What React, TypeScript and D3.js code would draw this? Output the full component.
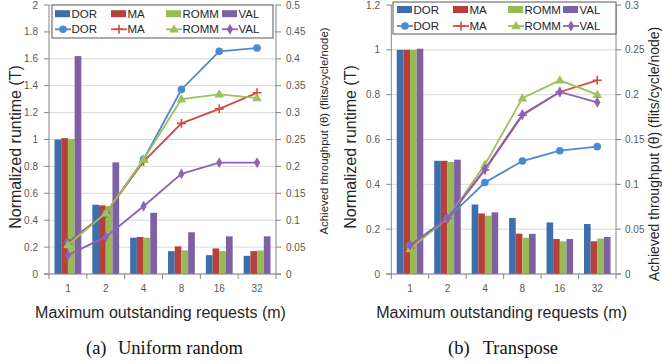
import React from 'react';
import * as d3 from 'd3';

const categories = ['1', '2', '4', '8', '16', '32'];
const seriesNames = ['DOR', 'MA', 'ROMM', 'VAL'];

// (a) Uniform random – normalized runtime (bars)
const urRuntimeDOR = [1.0, 0.515, 0.27, 0.17, 0.14, 0.135];
const urRuntimeMA = [1.01, 0.51, 0.275, 0.205, 0.19, 0.17];
const urRuntimeROMM = [1.005, 0.505, 0.27, 0.175, 0.17, 0.175];
const urRuntimeVAL = [1.62, 0.83, 0.455, 0.31, 0.28, 0.28];
// (a) Uniform random – throughput (lines)
const urThrDOR = [0.059, 0.113, 0.213, 0.343, 0.414, 0.42];
const urThrMA = [0.057, 0.113, 0.209, 0.28, 0.307, 0.337];
const urThrROMM = [0.054, 0.113, 0.213, 0.325, 0.334, 0.327];
const urThrVAL = [0.035, 0.069, 0.126, 0.186, 0.207, 0.207];

// (b) Transpose – normalized runtime (bars)
const trRuntimeDOR = [1.0, 0.505, 0.31, 0.25, 0.23, 0.223];
const trRuntimeMA = [1.0, 0.505, 0.27, 0.18, 0.156, 0.146];
const trRuntimeROMM = [1.0, 0.5, 0.26, 0.162, 0.146, 0.158];
const trRuntimeVAL = [1.005, 0.51, 0.275, 0.179, 0.156, 0.165];
// (b) Transpose – throughput (lines)
const trThrDOR = [0.032, 0.062, 0.102, 0.126, 0.1375, 0.142];
const trThrMA = [0.029, 0.062, 0.116, 0.177, 0.203, 0.216];
const trThrROMM = [0.028, 0.062, 0.122, 0.196, 0.216, 0.2];
const trThrVAL = [0.032, 0.062, 0.117, 0.178, 0.203, 0.1915];

const leftTicksA = [0, 0.2, 0.4, 0.6, 0.8, 1, 1.2, 1.4, 1.6, 1.8, 2];
const rightTicksA = [0, 0.05, 0.1, 0.15, 0.2, 0.25, 0.3, 0.35, 0.4, 0.45, 0.5];
const leftTicksB = [0, 0.2, 0.4, 0.6, 0.8, 1, 1.2];
const rightTicksB = [0, 0.05, 0.1, 0.15, 0.2, 0.25, 0.3];

const barColors = ['#3d6fac', '#b5403c', '#98ba55', '#7d61a2'];
const lineColors = ['#4a8ad2', '#d44a45', '#9cc25b', '#8b62b6'];

const SANS = '"Liberation Sans", Arial, sans-serif';
const SERIF = '"Liberation Serif", "Times New Roman", serif';
const AXIS = '#868686';
const GRID = '#d9d9d9';
const LABEL = '#595959';
const TITLE = '#262626';

function Marker({ kind, x, y, color }: { kind: number; x: number; y: number; color: string }) {
  if (kind === 0) return <circle cx={x} cy={y} r={3.8} fill={color} />;
  if (kind === 1)
    return (
      <path d={`M${x - 4.5},${y}H${x + 4.5}M${x},${y - 4.5}V${y + 4.5}`} stroke={color} strokeWidth={1.6} />
    );
  if (kind === 2) {
    const sym = d3.symbol().type(d3.symbolTriangle).size(40)();
    return <path d={sym || ''} transform={`translate(${x},${y + 0.5})`} fill={color} />;
  }
  const sym = d3.symbol().type(d3.symbolDiamond).size(34)();
  return <path d={sym || ''} transform={`translate(${x},${y})`} fill={color} />;
}

type ChartProps = {
  left: number;
  right: number;
  top: number;
  bottom: number;
  yMax: number;
  y2Max: number;
  leftTicks: number[];
  rightTicks: number[];
  bars: number[][];
  lines: number[][];
  leftLabelX: number;
  rightLabelX: number;
  leftTitleX: number;
  leftTitleY: number;
  rightTitleX: number;
  rightTitleY: number;
  rightTitleSize: number;
  legend: { x0: number; y0: number; x1: number; y1: number; cols: number[]; rows: number[] };
  caption: string;
  captionTag: string;
  captionTagX: number;
  captionTextX: number;
};

function Chart(p: ChartProps) {
  const x0 = d3.scaleBand<string>().domain(categories).range([p.left, p.right]).padding(0);
  const x1 = d3
    .scaleBand<string>()
    .domain(seriesNames)
    .range([0, x0.bandwidth()])
    .paddingInner(0)
    .paddingOuter(0.82);
  const y = d3.scaleLinear().domain([0, p.yMax]).range([p.bottom, p.top]);
  const y2 = d3.scaleLinear().domain([0, p.y2Max]).range([p.bottom, p.top]);
  const fmt = (v: number) => String(+v.toFixed(2));
  const lineGen = d3
    .line<number>()
    .x((_, i) => (x0(categories[i]) as number) + x0.bandwidth() / 2)
    .y((v) => y2(v));
  const cx = (p.left + p.right) / 2;
  const boundaries = categories.map((c) => x0(c) as number).concat([p.right]);
  return (
    <g>
      {p.leftTicks.map((t) => (
        <line key={'g' + t} x1={p.left} x2={p.right} y1={y(t)} y2={y(t)} stroke={GRID} strokeWidth={1} />
      ))}
      {p.bars.map((vals, si) =>
        vals.map((v, ci) => (
          <rect
            key={`b${si}-${ci}`}
            x={(x0(categories[ci]) as number) + (x1(seriesNames[si]) as number)}
            y={y(v)}
            width={x1.bandwidth()}
            height={p.bottom - y(v)}
            fill={barColors[si]}
          />
        ))
      )}
      <line x1={p.left} x2={p.left} y1={p.top} y2={p.bottom} stroke={AXIS} />
      <line x1={p.right} x2={p.right} y1={p.top} y2={p.bottom} stroke={AXIS} />
      <line x1={p.left - 5} x2={p.right + 5} y1={p.bottom} y2={p.bottom} stroke={AXIS} />
      {p.leftTicks.map((t) => (
        <g key={'lt' + t}>
          <line x1={p.left - 5} x2={p.left} y1={y(t)} y2={y(t)} stroke={AXIS} />
          <text x={p.leftLabelX} y={y(t)} dy="0.35em" textAnchor="end" fontSize={10} fill={LABEL} fontFamily={SANS}>
            {fmt(t)}
          </text>
        </g>
      ))}
      {p.rightTicks.map((t) => (
        <g key={'rt' + t}>
          <line x1={p.right} x2={p.right + 5} y1={y2(t)} y2={y2(t)} stroke={AXIS} />
          <text x={p.rightLabelX} y={y2(t)} dy="0.35em" textAnchor="start" fontSize={10} fill={LABEL} fontFamily={SANS}>
            {fmt(t)}
          </text>
        </g>
      ))}
      {boundaries.map((b, i) => (
        <line key={'bt' + i} x1={b} x2={b} y1={p.bottom} y2={p.bottom + 5} stroke={AXIS} />
      ))}
      {categories.map((c) => (
        <text
          key={'cl' + c}
          x={(x0(c) as number) + x0.bandwidth() / 2}
          y={292}
          textAnchor="middle"
          fontSize={10}
          fill={LABEL}
          fontFamily={SANS}
        >
          {c}
        </text>
      ))}
      {p.lines.map((vals, si) => (
        <g key={'l' + si}>
          <path d={lineGen(vals) || ''} fill="none" stroke={lineColors[si]} strokeWidth={1.8} />
          {vals.map((v, ci) => (
            <Marker
              key={ci}
              kind={si}
              x={(x0(categories[ci]) as number) + x0.bandwidth() / 2}
              y={y2(v)}
              color={lineColors[si]}
            />
          ))}
        </g>
      ))}
      <rect
        x={p.legend.x0}
        y={p.legend.y0}
        width={p.legend.x1 - p.legend.x0}
        height={p.legend.y1 - p.legend.y0}
        fill="#fff"
        stroke="#595959"
        strokeWidth={1}
      />
      {seriesNames.map((s, si) => (
        <g key={'lg' + s}>
          <rect x={p.legend.cols[si]} y={p.legend.rows[0] - 3.5} width={15} height={7} fill={barColors[si]} />
          <text
            x={p.legend.cols[si] + 16.5}
            y={p.legend.rows[0]}
            dy="0.36em"
            fontSize={11.5}
            fill={TITLE}
            fontFamily={SANS}
          >
            {s}
          </text>
          <line
            x1={p.legend.cols[si]}
            x2={p.legend.cols[si] + 16}
            y1={p.legend.rows[1]}
            y2={p.legend.rows[1]}
            stroke={lineColors[si]}
            strokeWidth={1.8}
          />
          <Marker kind={si} x={p.legend.cols[si] + 8} y={p.legend.rows[1]} color={lineColors[si]} />
          <text
            x={p.legend.cols[si] + 16.5}
            y={p.legend.rows[1]}
            dy="0.36em"
            fontSize={11.5}
            fill={TITLE}
            fontFamily={SANS}
          >
            {s}
          </text>
        </g>
      ))}
      <text
        transform={`translate(${p.leftTitleX},${p.leftTitleY}) rotate(-90)`}
        textAnchor="middle"
        fontSize={16}
        fill={TITLE}
        fontFamily={SANS}
      >
        Normalized runtime (T)
      </text>
      <text
        transform={`translate(${p.rightTitleX},${p.rightTitleY}) rotate(-90)`}
        textAnchor="middle"
        fontSize={p.rightTitleSize}
        fill={TITLE}
        fontFamily={SANS}
      >
        Achieved throughput (θ) (flits/cycle/node)
      </text>
      <text x={cx - 2} y={318} textAnchor="middle" fontSize={16} fill={TITLE} fontFamily={SANS}>
        Maximum outstanding requests (m)
      </text>
      <text x={p.captionTagX} y={354} fontSize={18.5} fill="#111" fontFamily={SERIF}>
        {p.captionTag}
      </text>
      <text x={p.captionTextX} y={354} fontSize={18.5} fill="#111" fontFamily={SERIF}>
        {p.caption}
      </text>
    </g>
  );
}

export default function App() {
  return (
    <svg
      width={662}
      height={364}
      style={{ position: 'absolute', left: 0, top: 0, background: '#fff' }}
      xmlns="http://www.w3.org/2000/svg"
    >
      <rect x={0} y={0} width={662} height={364} fill="#fff" />
      <Chart
        left={49}
        right={276}
        top={5}
        bottom={274}
        yMax={2}
        y2Max={0.5}
        leftTicks={leftTicksA}
        rightTicks={rightTicksA}
        bars={[urRuntimeDOR, urRuntimeMA, urRuntimeROMM, urRuntimeVAL]}
        lines={[urThrDOR, urThrMA, urThrROMM, urThrVAL]}
        leftLabelX={38}
        rightLabelX={286}
        leftTitleX={20.5}
        leftTitleY={147}
        rightTitleX={328}
        rightTitleY={131}
        rightTitleSize={11.4}
        legend={{ x0: 52, y0: 5, x1: 273, y1: 38, cols: [55, 111, 166, 222], rows: [13.7, 29.3] }}
        captionTag="(a)"
        caption="Uniform random"
        captionTagX={86}
        captionTextX={118}
      />
      <Chart
        left={391.3}
        right={616}
        top={5}
        bottom={274}
        yMax={1.2}
        y2Max={0.3}
        leftTicks={leftTicksB}
        rightTicks={rightTicksB}
        bars={[trRuntimeDOR, trRuntimeMA, trRuntimeROMM, trRuntimeVAL]}
        lines={[trThrDOR, trThrMA, trThrROMM, trThrVAL]}
        leftLabelX={380}
        rightLabelX={625}
        leftTitleX={356}
        leftTitleY={147}
        rightTitleX={659}
        rightTitleY={154}
        rightTitleSize={14}
        legend={{ x0: 393, y0: 2, x1: 616, y1: 34, cols: [397, 453, 508, 563], rows: [9.5, 26] }}
        captionTag="(b)"
        caption="Transpose"
        captionTagX={448}
        captionTextX={482.7}
      />
    </svg>
  );
}
